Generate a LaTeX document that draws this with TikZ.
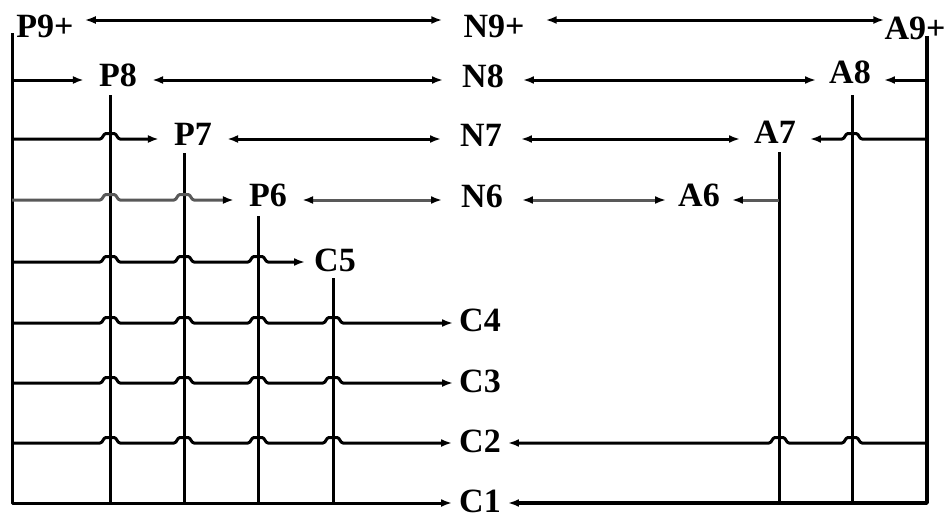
\documentclass[tikz,border=0pt]{standalone}
\usepackage{fontspec}
\setmainfont{Liberation Serif}
\usetikzlibrary{arrows.meta}

% a horizontal wire hopping over a vertical wire at x=#1 on the row y=#2
\newcommand\hopover[2]{-- ({#1-10},#2) .. controls ({#1-7},#2) and ({#1-7},{#2-5.5}) .. ({#1-4},{#2-5.5}) -- ({#1+4},{#2-5.5}) .. controls ({#1+7},{#2-5.5}) and ({#1+7},#2) .. ({#1+10},#2)}

\begin{document}
\begin{tikzpicture}[x=1pt,y=-1pt,
  lbl/.style={font=\fontsize{34}{34}\selectfont\bfseries, inner xsep=16pt, inner ysep=0pt},
  wire/.style={line width=3pt, line join=round},
  tolbl/.style={wire, -{Latex[length=11pt,width=8pt,color=black]}},
  fromlbl/.style={wire, {Latex[length=11pt,width=8pt,color=black]}-},
  bothlbl/.style={wire, {Latex[length=11pt,width=8pt,color=black]}-{Latex[length=11pt,width=8pt,color=black]}},
  faint/.style={draw=black!65}
]
\fill[white] (0,0) rectangle (952,522);
\useasboundingbox (0,0) rectangle (952,522);

% rows
\coordinate (r9) at (0,20);
\coordinate (r8) at (0,80);
\coordinate (r7) at (0,139);
\coordinate (r6) at (0,200);
\coordinate (r5) at (0,262);
\coordinate (r4) at (0,323);
\coordinate (r3) at (0,383);
\coordinate (r2) at (0,443);
\coordinate (r1) at (0,503);

% tops of the vertical wires
\coordinate (vL)  at (12,33);
\coordinate (vP8) at (110,95);
\coordinate (vP7) at (184,153);
\coordinate (vP6) at (258,216);
\coordinate (vC5) at (333,278);
\coordinate (vA7) at (779,152);
\coordinate (vA8) at (852,95);
\coordinate (vR)  at (927,36);

% labels
\node[lbl, inner xsep=11pt] (P9) at (45,26) {P9+};
\node[lbl, inner xsep=21pt] (N9) at (494,26) {N9+};
\node[lbl, inner xsep=0pt]  (A9) at (915,28) {A9+};

\node[lbl, inner xsep=15pt] (P8) at (118,75) {P8};
\node[lbl, inner xsep=19pt] (N8) at (483,76) {N8};
\node[lbl, inner xsep=13pt] (A8) at (850,72) {A8};

\node[lbl, inner xsep=15pt] (P7) at (193,134) {P7};
\node[lbl, inner xsep=19pt] (N7) at (481,135) {N7};
\node[lbl, inner xsep=14pt] (A7) at (775,132) {A7};

\node[lbl, inner xsep=15pt] (P6) at (268,195) {P6};
\node[lbl, inner xsep=19pt] (N6) at (482,196) {N6};
\node[lbl, inner xsep=12pt] (A6) at (699,195) {A6};

\node[lbl, inner xsep=9pt] (C5) at (335,260) {C5};
\node[lbl, inner xsep=6pt] (C4) at (480,320) {C4};
\node[lbl, inner xsep=6pt] (C3) at (480,381) {C3};
\node[lbl, inner xsep=7pt] (C2) at (480,441) {C2};
\node[lbl, inner xsep=7pt] (C1) at (480,501) {C1};

% vertical wires
\draw[wire] (vP8) -- (vP8 |- r1);
\draw[wire] (vP7) -- (vP7 |- r1);
\draw[wire] (vP6) -- (vP6 |- r1);
\draw[wire] (vC5) -- (vC5 |- r1);
\draw[wire] (vA7) -- (vA7 |- r1);
\draw[wire] (vA8) -- (vA8 |- r1);
\draw[tolbl] (vL) -- (vL |- r1) -- (C1.west |- r1);
\draw[tolbl, line width=3.6pt] (vR) -- (vR |- r1) -- (C1.east |- r1);

% row 9
\draw[bothlbl] (P9.east |- r9) -- (N9.west |- r9);
\draw[bothlbl] (N9.east |- r9) -- (A9.west |- r9);

% row 8
\draw[tolbl] (vL |- r8) -- (P8.west |- r8);
\draw[bothlbl] (P8.east |- r8) -- (N8.west |- r8);
\draw[bothlbl] (N8.east |- r8) -- (A8.west |- r8);
\draw[tolbl] (vR |- r8) -- (A8.east |- r8);

% row 7
\draw[tolbl] (vL |- r7) \hopover{110}{139} -- (P7.west |- r7);
\draw[bothlbl] (P7.east |- r7) -- (N7.west |- r7);
\draw[bothlbl] (N7.east |- r7) -- (A7.west |- r7);
\draw[fromlbl] (A7.east |- r7) \hopover{852}{139} -- (vR |- r7);

% row 6
\draw[tolbl, faint] (vL |- r6) \hopover{110}{200} \hopover{184}{200} -- (P6.west |- r6);
\draw[bothlbl, faint] (P6.east |- r6) -- (N6.west |- r6);
\draw[bothlbl, faint] (N6.east |- r6) -- (A6.west |- r6);
\draw[fromlbl, faint] (A6.east |- r6) -- (vA7 |- r6);

% row 5
\draw[tolbl] (vL |- r5) \hopover{110}{262} \hopover{184}{262} \hopover{258}{262} -- (C5.west |- r5);

% rows 4 to 2
\draw[tolbl] (vL |- r4) \hopover{110}{323} \hopover{184}{323} \hopover{258}{323} \hopover{333}{323} -- (C4.west |- r4);
\draw[tolbl] (vL |- r3) \hopover{110}{383} \hopover{184}{383} \hopover{258}{383} \hopover{333}{383} -- (C3.west |- r3);
\draw[tolbl] (vL |- r2) \hopover{110}{443} \hopover{184}{443} \hopover{258}{443} \hopover{333}{443} -- (C2.west |- r2);
\draw[fromlbl] (C2.east |- r2) \hopover{779}{443} \hopover{852}{443} -- (vR |- r2);
\end{tikzpicture}
\end{document}
